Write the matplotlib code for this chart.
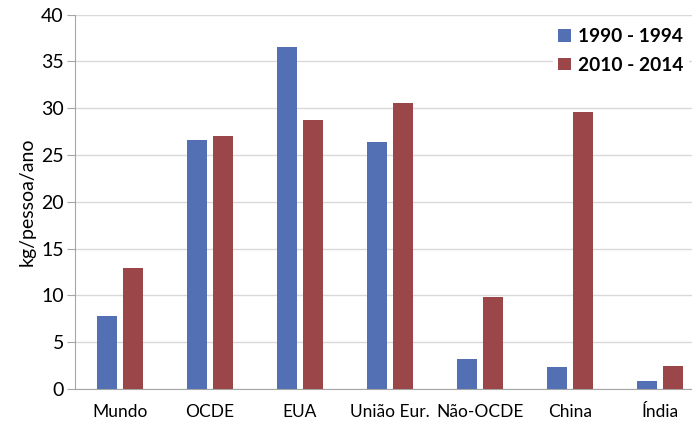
import numpy as np
import matplotlib.pyplot as plt

# consumo per capita, kg/pessoa/ano
regioes = ['Mundo', 'OCDE', 'EUA', 'União Eur.', 'Não-OCDE', 'China', 'Índia']
periodo1 = [7.8, 26.6, 36.5, 26.4, 3.2, 2.4, 0.9]
periodo2 = [12.9, 27.0, 28.7, 30.6, 9.8, 29.6, 2.5]
series = ['1990 - 1994', '2010 - 2014']

azul = '#5470b4'
vermelho = '#9b4749'

plt.rcParams['font.family'] = ['Lato', 'DejaVu Sans']

fig = plt.figure(figsize=(6.92, 4.21), dpi=100)
ax = fig.add_axes([75/692, 32/421, 630/692, 374.3/421])

x = np.arange(len(regioes))
larg = 0.222
desl = 0.145
ax.bar(x - desl, periodo1, larg, color=azul, label=series[0], zorder=3)
ax.bar(x + desl, periodo2, larg, color=vermelho, label=series[1], zorder=3)

ax.set_xlim(-0.5, len(regioes) - 0.5)
ax.set_ylim(0, 40)
ax.set_yticks(range(0, 41, 5))
ax.set_xticks(x)
ax.set_xticklabels(regioes)
ax.tick_params(axis='y', length=6, color='#a6a6a6', labelsize=14, pad=2)
ax.tick_params(axis='x', length=0, labelsize=12.5, pad=11)
ax.grid(axis='y', color='#d9d9d9', linewidth=1, zorder=0)
for s in ['top', 'right']:
    ax.spines[s].set_visible(False)
for s in ['left', 'bottom']:
    ax.spines[s].set_color('#a6a6a6')
ax.set_ylabel('kg/pessoa/ano', fontsize=14, labelpad=4)

leg = ax.legend(loc='upper left', bbox_to_anchor=(0.743, 1.005), frameon=True,
                fancybox=False, edgecolor='none', framealpha=1,
                handlelength=0.65, handleheight=0.65, handletextpad=0.35,
                labelspacing=0.6, borderpad=0.3,
                prop={'weight': 'bold', 'size': 13.8})

fig.savefig('out.png', dpi=100)
